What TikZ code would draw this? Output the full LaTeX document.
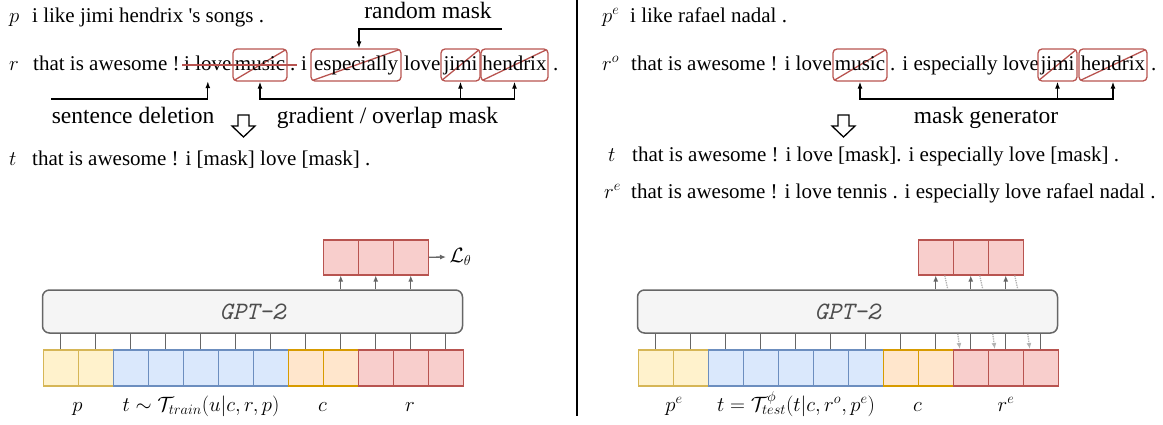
\documentclass[tikz,border=0pt]{standalone}
\usepackage{fontspec}
\setmainfont{Liberation Serif}
\usetikzlibrary{arrows.meta}

\definecolor{ylwfill}{HTML}{FFF2CC}
\definecolor{ylwline}{HTML}{D6B656}
\definecolor{bluefill}{HTML}{DAE8FC}
\definecolor{blueline}{HTML}{6C8EBF}
\definecolor{orgfill}{HTML}{FFE6CC}
\definecolor{orgline}{HTML}{D79B00}
\definecolor{redfill}{HTML}{F8CECC}
\definecolor{redline}{HTML}{B85450}
\definecolor{gptfill}{HTML}{F5F5F5}
\definecolor{gptline}{HTML}{666666}
\definecolor{gpttext}{HTML}{4D4D4D}
\definecolor{dotgray}{HTML}{B3B3B3}

\tikzset{
  word/.style={inner xsep=0pt, inner ysep=7pt, text height=14pt, text depth=4pt,
    anchor=west, font=\fontsize{21}{25}\selectfont},
  maskbox/.style={word, anchor=center, draw=redline, line width=1.3pt, rounded corners=4pt,
    path picture={\draw[redline, line width=1.3pt] (path picture bounding box.south west)
      -- (path picture bounding box.north east);}},
  tag/.style={anchor=base, font=\fontsize{23.5}{28}\selectfont},
  tip/.style={line width=1.3pt, >={Latex[length=7pt,width=5pt]}},
  cell/.style={minimum width=35pt, minimum height=36pt, inner sep=0pt, line width=1.5pt,
    anchor=north west},
  gpt/.style={minimum width=420pt, minimum height=43pt, rounded corners=7pt, fill=gptfill,
    draw=gptline, line width=1.5pt, text=gpttext, font=\fontsize{25}{28}\selectfont\ttfamily\itshape},
  link/.style={draw=gptline, line width=1.3pt, >={Latex[length=6pt,width=5pt]}},
  dotlink/.style={draw=dotgray, line width=1.3pt, densely dotted, >={Latex[length=6pt,width=5pt]}},
  lab/.style={anchor=base, font=\fontsize{19.5}{23}\selectfont}
}

\begin{document}
\begin{tikzpicture}[x=1pt,y=-1pt]
    \useasboundingbox (0,0) rectangle (1163,424);

    %%%%%%%%% Frasi (train) %%%%%%%%%%
    \node[word] (pl) at (9,17) {$p$};
    \node[word] (ptxt) at (32,17) {i like jimi hendrix \textquotesingle s songs .};
    \node[word] (rl) at (9,65) {$r$};
    \node[word] (r1) at (33,65) {that is awesome !};
    \node[word] (ilove) at (184,65) {i love};
    \node[maskbox, minimum width=54pt] (music) at (260,65) {music};
    \node[word] (dot1) at (290,65) {.};
    \node[word] (r2) at (301,65) {i};
    \node[maskbox, minimum width=90pt] (esp) at (356,65) {especially};
    \node[word] (r3) at (404,65) {love};
    \node[maskbox, minimum width=39pt] (jimi) at (460.5,65) {jimi};
    \node[maskbox, minimum width=67pt] (hendrix) at (514.5,65) {hendrix};
    \node[word] (r4) at (553,65) {.};
    \node[word] (tl) at (9,160) {$t$};
    \node[word] (ttxt) at (32,160) {that is awesome ! i [mask] love [mask] .};

    %%%%%%%%% Maschere (train) %%%%%%%%%
    \draw[redline, line width=1.3pt] ([xshift=-2pt]ilove.west) -- ([xshift=1pt]dot1.east);
    \node[tag] (rmask) at (428,18) {random mask};
    \coordinate (rmstart) at (502,29);
    \draw[tip,->] (rmstart) -| ([xshift=3pt]esp.north);
    \node[tag] (sdel) at (133,123) {sentence deletion};
    \coordinate (sdstart) at (51,99);
    \draw[tip,->] (sdstart) -| (ilove.south);
    \node[tag] (gmask) at (387.5,123) {gradient / overlap mask};
    \coordinate (gline) at (0,99);
    \draw[tip,<->] (music.south) |- (hendrix.south |- gline) -- (hendrix.south);
    \draw[tip,->] (jimi.south |- gline) -- (jimi.south);
    \draw[line width=1.3pt] (238,115) -- (249,115) -- (249,126) -- (255,126)
        -- (243.5,137) -- (232,126) -- (238,126) -- cycle;

    %%%%%%%%% GPT-2 (train) %%%%%%%%%
    \node[gpt] (gpt) at (252.5,311.5) {GPT-2};
    \foreach \i/\f/\d in {0/ylwfill/ylwline, 1/ylwfill/ylwline, 2/bluefill/blueline,
        3/bluefill/blueline, 4/bluefill/blueline, 5/bluefill/blueline, 6/bluefill/blueline,
        7/orgfill/orgline, 8/orgfill/orgline, 9/redfill/redline, 10/redfill/redline,
        11/redfill/redline} {
      \node[cell, fill=\f, draw=\d] (c\i) at (42.5+35*\i,349) {};
      \draw[link] (c\i.north) -- (c\i.north |- gpt.south);
    }
    \foreach \k in {0,1,2} {
      \node[cell, minimum height=35pt, fill=redfill, draw=redline] (o\k) at (322.5+35*\k,239) {};
      \draw[link,->] (o\k.south |- gpt.north) -- (o\k.south);
    }
    \node[anchor=west, font=\fontsize{20}{24}\selectfont] (loss) at (446,257) {$\mathcal{L}_\theta$};
    \draw[link,->] (o2.east) -- (loss.west);
    \node[lab] (lp) at (77.5,411) {$p$};
    \node[lab] (lt) at (201,411) {$t\sim\mathcal{T}_{train}(u|c,r,p)$};
    \node[lab] (lc) at (322.5,411) {$c$};
    \node[lab] (lr) at (410,411) {$r$};

    %%%%%%%%% Divisore %%%%%%%%%
    \draw[line width=1.5pt] (577,0) -- (577,416);

    %%%%%%%%% Frasi (test) %%%%%%%%%%
    \node[word] (pel) at (602,17) {$p^e$};
    \node[word] (petxt) at (630,17) {i like rafael nadal .};
    \node[word] (rol) at (602,65) {$r^o$};
    \node[word] (ro1) at (631,65) {that is awesome ! i love};
    \node[maskbox, minimum width=54pt] (rmusic) at (860,65) {music};
    \node[word] (ro2) at (890,65) {. i especially love};
    \node[maskbox, minimum width=39pt] (rjimi) at (1057.5,65) {jimi};
    \node[maskbox, minimum width=68pt] (rhendrix) at (1113,65) {hendrix};
    \node[word] (ro3) at (1151,65) {.};
    \node[word] (tel) at (608,156) {$t$};
    \node[word] (tetxt) at (632,156) {that is awesome ! i love [mask]. i especially love [mask] .};
    \node[word] (rel) at (604,193) {$r^e$};
    \node[word] (retxt) at (631,193) {that is awesome ! i love tennis . i especially love rafael nadal .};

    %%%%%%%%% Maschere (test) %%%%%%%%%
    \node[tag] (mgen) at (986,123) {mask generator};
    \coordinate (rgline) at (0,99);
    \draw[tip,<->] (rmusic.south) |- (rhendrix.south |- rgline) -- (rhendrix.south);
    \draw[tip,->] (rjimi.south |- rgline) -- (rjimi.south);
    \draw[line width=1.3pt] (838,115) -- (849,115) -- (849,126) -- (855,126)
        -- (843.5,137) -- (832,126) -- (838,126) -- cycle;

    %%%%%%%%% GPT-2 (test) %%%%%%%%%
    \node[gpt] (egpt) at (847.5,311.5) {GPT-2};
    \foreach \i/\f/\d in {0/ylwfill/ylwline, 1/ylwfill/ylwline, 2/bluefill/blueline,
        3/bluefill/blueline, 4/bluefill/blueline, 5/bluefill/blueline, 6/bluefill/blueline,
        7/orgfill/orgline, 8/orgfill/orgline, 9/redfill/redline, 10/redfill/redline,
        11/redfill/redline} {
      \node[cell, fill=\f, draw=\d] (ec\i) at (637.5+35*\i,349) {};
      \draw[link] (ec\i.north) -- (ec\i.north |- egpt.south);
    }
    \foreach \k/\j in {0/9,1/10,2/11} {
      \node[cell, minimum height=35pt, fill=redfill, draw=redline] (eo\k) at (917.5+35*\k,239) {};
      \draw[link,->] (eo\k.south |- egpt.north) -- (eo\k.south);
      \draw[dotlink] ([xshift=9pt]eo\k.south) -- ([xshift=12pt]eo\k.south |- egpt.north);
      \draw[dotlink,->] ([xshift=-13pt]ec\j.north |- egpt.south) -- ([xshift=-11pt]ec\j.north);
    }
    \node[lab] (lpe) at (674,411) {$p^e$};
    \node[lab] (lte) at (796,411) {$t=\mathcal{T}^{\phi}_{test}(t|c,r^o,p^e)$};
    \node[lab] (lce) at (917.5,411) {$c$};
    \node[lab] (lre) at (1006,411) {$r^e$};
\end{tikzpicture}
\end{document}
